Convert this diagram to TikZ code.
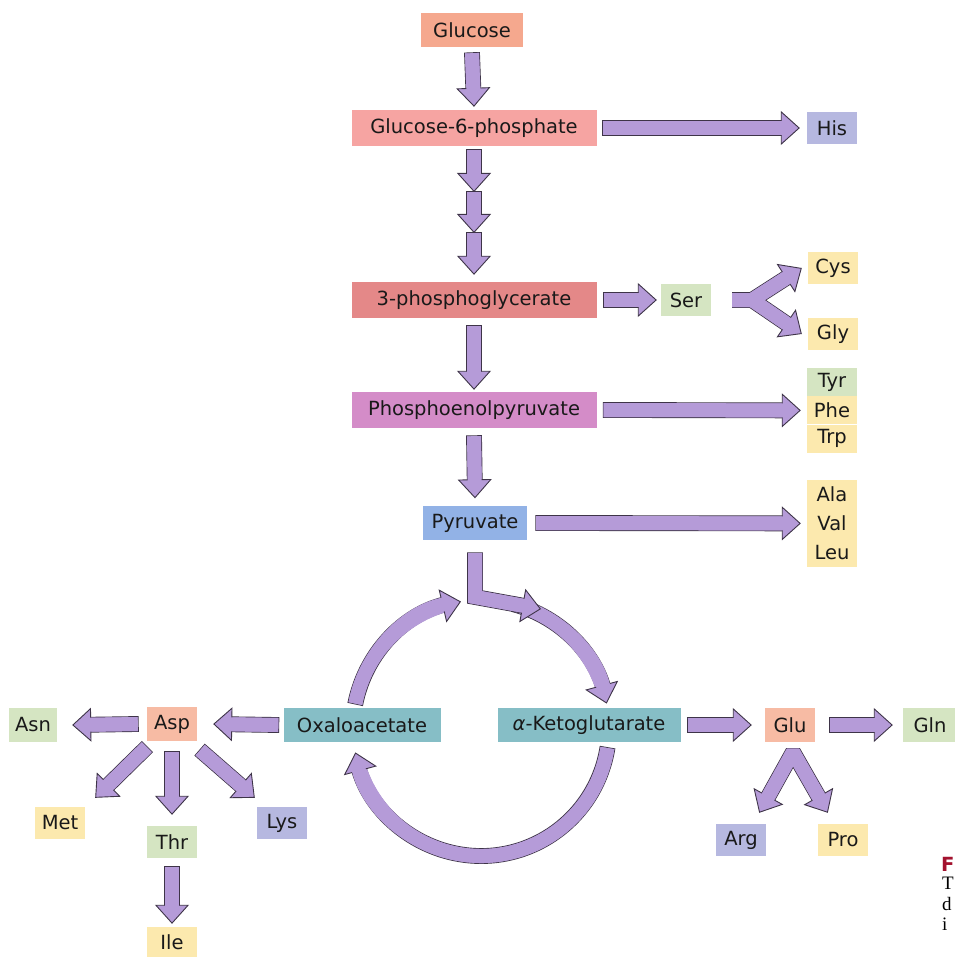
\documentclass[tikz,border=0pt]{standalone}
\usepackage{fontspec}
\setmainfont{DejaVu Sans}
\newfontfamily\capserif{Liberation Serif}
\usetikzlibrary{arrows.meta,bending,positioning,calc}

\definecolor{arrowfill}{HTML}{B59BD8}
\definecolor{arrowedge}{HTML}{3E3448}
\definecolor{glucosec}{HTML}{F5A88E}
\definecolor{gsixpc}{HTML}{F6A4A2}
\definecolor{pgac}{HTML}{E48888}
\definecolor{pepc}{HTML}{D48CC8}
\definecolor{pyrc}{HTML}{92B2E6}
\definecolor{tcac}{HTML}{86BEC6}
\definecolor{aspc}{HTML}{F7BBA4}
\definecolor{aagreen}{HTML}{D5E5C2}
\definecolor{aayellow}{HTML}{FCE9AE}
\definecolor{aablue}{HTML}{B6B8E0}
\definecolor{capred}{HTML}{A3122E}

\begin{document}
\begin{tikzpicture}[x=1pt, y=-1pt, font=\fontsize{19.5}{23}\selectfont]
  \tikzset{
    box/.style={inner sep=0pt, minimum height=34pt, text=black!90},
    long_box/.style={box, minimum width=245pt, minimum height=36pt},
    aa/.style={box, minimum width=50pt, minimum height=32pt},
    fathead/.tip={Triangle[length=19pt, width=34pt, line width=0.9pt, color=arrowedge, fill=arrowfill]},
    fat/.style={draw=arrowfill, line width=14pt, line join=miter, -fathead,
      preaction={draw=arrowedge, line width=15.8pt, line join=miter, -, shorten <=-0.9pt, shorten >=10pt},
      postaction={draw=arrowfill, line width=14pt, -, shorten >=15pt}},
    fatfork/.style={draw=arrowfill, line width=14pt, line join=#1, fathead-fathead,
      preaction={draw=arrowedge, line width=15.8pt, line join=#1, -, shorten <=10pt, shorten >=10pt},
      postaction={draw=arrowfill, line width=14pt, line join=#1, -, shorten <=15pt, shorten >=15pt}},
    fatfork/.default=miter,
    caption_letter/.style={anchor=base west, inner sep=0pt}
  }
  \useasboundingbox (0,0) rectangle (954,957);

  % Glucolisis
  \node[box, fill=glucosec, minimum width=102pt] (glc) at (472,30) {Glucose};
  \node[long_box, fill=gsixpc] (g6p) at (474,128) {Glucose-6-phosphate};
  \node[long_box, fill=pgac] (pga) at (474,300) {3-phosphoglycerate};
  \node[long_box, fill=pepc] (pep) at (474,410) {Phosphoenolpyruvate};
  \node[box, fill=pyrc, minimum width=104pt] (pyr) at (475,523) {Pyruvate};

  % Ciclo
  \node[box, fill=tcac, minimum width=157pt] (oaa) at (362,725) {Oxaloacetate};
  \node[box, fill=tcac, minimum width=183pt] (akg) at (589,725) {\textit{α}-Ketoglutarate};
  \coordinate (cyc) at (481,728);

  % Aminoacidos
  \node[aa, fill=aablue] (his) at (832,128) {His};
  \node[aa, fill=aagreen] (ser) at (686,300) {Ser};
  \node[aa, fill=aayellow] (cys) at (833,268) {Cys};
  \node[aa, fill=aayellow] (gly) at (833,334) {Gly};
  \node[aa, fill=aagreen, minimum height=28pt] (tyr) at (832,382) {Tyr};
  \node[aa, fill=aayellow, minimum height=28pt, below=0pt of tyr] (phe) {Phe};
  \node[aa, fill=aayellow, minimum height=28pt, below=0pt of phe] (trp) {Trp};
  \node[aa, fill=aayellow, minimum height=29pt] (ala) at (832,494) {Ala};
  \node[aa, fill=aayellow, minimum height=29pt, below=0pt of ala] (val) {Val};
  \node[aa, fill=aayellow, minimum height=29pt, below=0pt of val] (leu) {Leu};
  \node[aa, fill=aspc, minimum height=34pt] (glu) at (790,725) {Glu};
  \node[aa, fill=aagreen, minimum height=34pt, minimum width=54pt] (gln) at (930,725) {Gln};
  \node[aa, fill=aablue] (arg) at (741,840) {Arg};
  \node[aa, fill=aayellow] (pro) at (843,840) {Pro};
  \node[aa, fill=aspc, minimum height=34pt] (asp) at (172,724) {Asp};
  \node[aa, fill=aagreen, minimum height=34pt, minimum width=48pt] (asn) at (33,725) {Asn};
  \node[aa, fill=aayellow] (met) at (60,823) {Met};
  \node[aa, fill=aagreen] (thr) at (172,842) {Thr};
  \node[aa, fill=aablue] (lys) at (282,823) {Lys};
  \node[aa, fill=aayellow, minimum height=30pt] (ile) at (172,942) {Ile};

  % Flechas de la via central
  \coordinate (s1) at (474,192);
  \coordinate (s2) at (474,233);
  \draw[fat] ([yshift=-6pt]glc.south) -- ([yshift=3pt]g6p.north);
  \draw[fat] ([yshift=-4pt]g6p.south) -- (s1);
  \draw[fat] (s1) -- (s2);
  \draw[fat] (s2) -- ([yshift=7pt]pga.north);
  \draw[fat] ([yshift=-8pt]pga.south) -- ([yshift=2pt]pep.north);
  \draw[fat] ([yshift=-8pt]pep.south) -- ([yshift=7.5pt]pyr.north);

  % Flechas hacia los aminoacidos
  \draw[fat] ([xshift=6pt]g6p.east) -- ([xshift=-7pt]his.west);
  \draw[fat] ([xshift=7pt]pga.east) -- ([xshift=-4pt]ser.west);
  \coordinate (serfk) at (752,300);
  \draw[fatfork] ([xshift=21pt]ser.east) -- (serfk)
    ([xshift=-6pt]cys.west) -- (serfk) -- ([xshift=-6pt]gly.west);
  \draw[fat] ([xshift=7pt]pep.east) -- ([xshift=-6pt]phe.west);
  \draw[fat] ([xshift=9pt]pyr.east) -- ([xshift=-6pt]val.west);

  % Ciclo de Krebs
  \coordinate (pyrbend) at (475,597);
  \coordinate (pyrin) at (541,609);
  \draw[fat] ($(cyc)+(191:128)$) arc[start angle=191, end angle=261, radius=128];
  \draw[fat] ($(cyc)+(285:128)$) arc[start angle=285, end angle=349, radius=128];
  \draw[fat] ([yshift=-13pt]pyr.south) -- (pyrbend) -- (pyrin);
  \draw[fat] ($(cyc)+(9:128)$) arc[start angle=9, end angle=169, radius=128];

  % Familia del aspartato
  \draw[fat] ([xshift=-5pt]oaa.west) -- ([xshift=16pt]asp.east);
  \draw[fat] ([xshift=-9pt]asp.west) -- ([xshift=15pt]asn.east);
  \draw[fat] ([yshift=-6pt]asp.south west) -- ([xshift=10pt,yshift=9pt]met.north east);
  \draw[fat] ([yshift=-11pt]asp.south) -- ([yshift=11pt]thr.north);
  \draw[fat] ([xshift=3pt,yshift=-9pt]asp.south east) -- ([xshift=-2pt,yshift=9pt]lys.north west);
  \draw[fat] ([yshift=-9pt]thr.south) -- ([yshift=3pt]ile.north);

  % Familia del glutamato
  \coordinate (glufk) at (793,752);
  \draw[fat] ([xshift=7pt]akg.east) -- ([xshift=-13pt]glu.west);
  \draw[fat] ([xshift=15pt]glu.east) -- ([xshift=-10pt]gln.west);
  \draw[fatfork=bevel] ([xshift=-7pt,yshift=11pt]arg.north east) -- (glufk)
    -- ([xshift=10pt,yshift=11pt]pro.north west);

  % Resto del pie de figura
  \node[caption_letter, text=capred, font=\fontsize{19.5}{23}\selectfont\bfseries] (capf) at (941,871) {F};
  \node[anchor=north west, inner sep=0pt, align=left, font=\capserif\fontsize{19}{20.5}\selectfont] (captext) at (942,877) {T\\d\\i};
\end{tikzpicture}
\end{document}
